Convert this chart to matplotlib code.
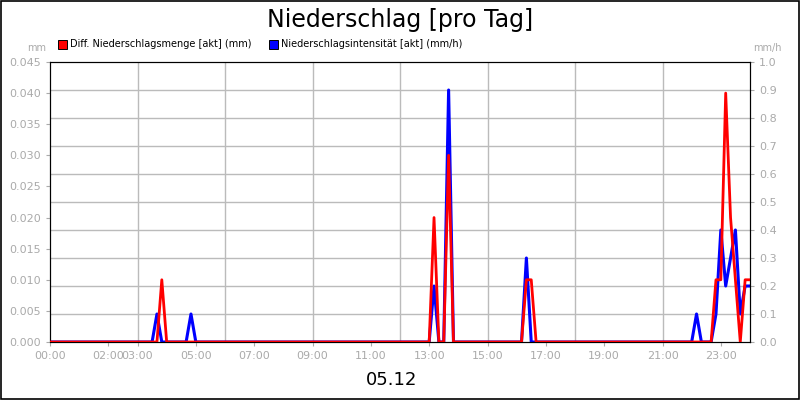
import matplotlib
matplotlib.use("Agg")
import matplotlib.pyplot as plt
from matplotlib.patches import Rectangle
import numpy as np

# event data (time in minutes since 00:00, values); all other 10-min slots are zero
red_times = [230, 790, 820, 980, 990, 1370, 1380, 1390, 1400, 1410, 1430, 1440]
red_vals  = [0.01, 0.02, 0.03, 0.01, 0.01, 0.01, 0.01, 0.04, 0.02, 0.01, 0.01, 0.01]
blue_times = [220, 290, 790, 820, 980, 1330, 1370, 1380, 1390, 1400, 1410, 1420, 1430, 1440]
blue_vals  = [0.1, 0.1, 0.2, 0.9, 0.3, 0.1, 0.1, 0.4, 0.2, 0.3, 0.4, 0.1, 0.2, 0.2]

t = np.arange(0, 1441, 10)
red = np.zeros(len(t)); blue = np.zeros(len(t))
for tt, v in zip(red_times, red_vals): red[tt // 10] = v
for tt, v in zip(blue_times, blue_vals): blue[tt // 10] = v

tick_pos = [0, 120, 180, 300, 420, 540, 660, 780, 900, 1020, 1140, 1260, 1380]
tick_lab = ["00:00", "02:00", "03:00", "05:00", "07:00", "09:00", "11:00", "13:00",
            "15:00", "17:00", "19:00", "21:00", "23:00"]
grid_pos = [180, 360, 540, 720, 900, 1080, 1260]

fig = plt.figure(figsize=(8, 4), dpi=100)
fig.patches.append(Rectangle((0.001, 0.002), 0.998, 0.996, transform=fig.transFigure,
                             fill=False, edgecolor="black", lw=1.2))
ax = fig.add_axes([0.0625, 0.145, 0.875, 0.70])
ax2 = ax.twinx()
gray = "#aaaaaa"
ax.plot(t, red, color="#ff0000", lw=2, zorder=3)
ax2.plot(t, blue, color="#0000ff", lw=2.2, zorder=2)
ax2.set_zorder(ax.get_zorder() - 1)
ax.set_zorder(ax2.get_zorder() + 1); ax.patch.set_visible(False)
ax.set_xlim(0, 1440); ax.set_ylim(0, 0.045); ax2.set_ylim(0, 1.0)
ax.set_yticks(np.arange(0, 0.0451, 0.005))
ax.set_yticklabels([f"{v:.3f}" for v in np.arange(0, 0.0451, 0.005)])
ax2.set_yticks(np.arange(0, 1.01, 0.1))
ax2.set_yticklabels([f"{v:.1f}" for v in np.arange(0, 1.01, 0.1)])
ax.set_xticks(tick_pos); ax.set_xticklabels(tick_lab)
ax.grid(False); ax2.grid(False)
for g in grid_pos:
    ax2.axvline(g, color="#bbbbbb", lw=1, zorder=0)
for v in np.arange(0.1, 1.0, 0.1):
    ax2.axhline(v, color="#bbbbbb", lw=1, zorder=0)
for a in (ax, ax2):
    a.tick_params(colors=gray, labelsize=8, length=3)
    for s in a.spines.values(): s.set_color("black")
ax.text(-0.005, 1.04, "mm", transform=ax.transAxes, ha="right", fontsize=7, color=gray)
ax2.text(1.005, 1.04, "mm/h", transform=ax.transAxes, ha="left", fontsize=7, color=gray)
fig.text(0.5, 0.95, "Niederschlag [pro Tag]", ha="center", va="center", fontsize=17)
fig.text(0.49, 0.05, "05.12", ha="center", va="center", fontsize=13)
fig.patches.append(Rectangle((0.073, 0.878), 0.011, 0.022, transform=fig.transFigure, fc="red", ec="black", lw=0.7))
fig.text(0.088, 0.889, "Diff. Niederschlagsmenge [akt] (mm)", fontsize=7, va="center")
fig.patches.append(Rectangle((0.336, 0.878), 0.011, 0.022, transform=fig.transFigure, fc="blue", ec="black", lw=0.7))
fig.text(0.351, 0.889, "Niederschlagsintensität [akt] (mm/h)", fontsize=7, va="center")
fig.savefig("out.png")
